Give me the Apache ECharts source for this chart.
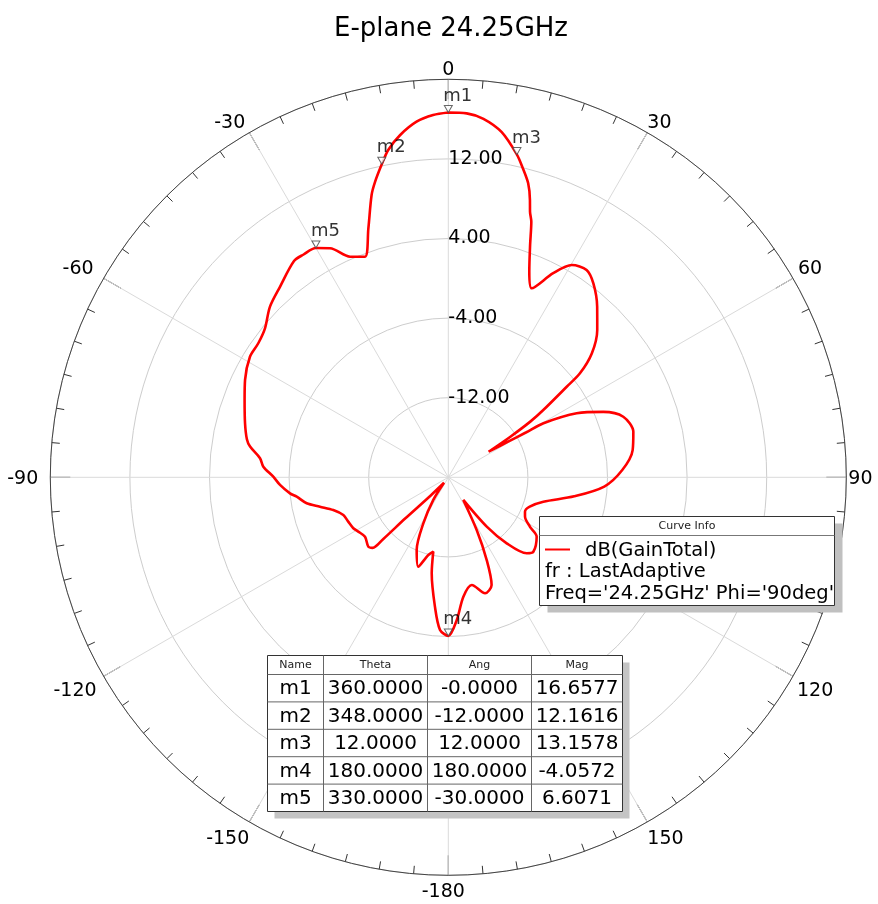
<!DOCTYPE html>
<html><head><meta charset="utf-8">
<script src="https://cdn.jsdelivr.net/npm/echarts@6/dist/echarts.min.js"></script>
<style>html,body{margin:0;padding:0;background:#fff}#c{width:878px;height:904px}</style>
</head><body><div id="c"></div>
<script>
// Pattern data: angle (deg, clockwise from top) and gain (dB)
const angles = [0, 2.9, 5.6, 8.8, 12, 13.5, 15.2, 16.4, 17.1, 18.0, 19.4, 21.5, 23.8, 27.2, 30.2, 33.7, 36.8, 41.1, 45.3, 49.2, 51.7, 52.6, 54.7, 55.8, 56.8, 57.6, 59.2, 60.0, 60.4, 63.5, 67.1, 70.9, 76.2, 81.6, 87.6, 93.4, 98.6, 104.4, 109.8, 114.2, 117.2, 121.2, 123.9, 131.2, 134.1, 138.5, 142.1, 146.5, 151.7, 155.1, 158.1, 162.4, 167.7, 172.8, 176.6, 180, 183.1, 185.9, 189.8, 191.4, 194.4, 198.6, 203.5, 208.5, 213.5, 218, 224, 226.3, 226.5, 227.0, 229.1, 234.5, 238.9, 241.8, 246.1, 250.2, 254.1, 257.1, 259.6, 262.7, 264.2, 267.4, 270.2, 273.3, 275.8, 278.8, 280.7, 284.9, 290.8, 295.6, 301.3, 305.2, 309.1, 313.7, 318.6, 324.5, 327.0, 330, 332.7, 336.0, 339.3, 342.2, 344.8, 346.1, 348, 349.6, 352.0, 354.9, 357.6, 360];
const gainDb = [16.66, 16.62, 16.2, 15.1, 13.16, 12.0, 10.62, 9.06, 7.93, 7.0, 4.75, 2.21, 0.76, 3.06, 4.68, 5.05, 4.34, 2.76, 1.06, -0.95, -3.14, -5.02, -8.30, -10.0, -12.5, -15.2, -13.0, -11.0, -9.0, -5.58, -3.09, -1.39, -0.85, -1.27, -2.5, -4.3, -7.2, -10.14, -11.3, -11.55, -11.33, -10.4, -9.3, -8.64, -9.03, -11.14, -13.71, -17.27, -13.98, -10.83, -8.33, -7.77, -8.92, -7.91, -5.64, -4.06, -4.63, -6.93, -10.21, -12.37, -11.94, -10.52, -12.03, -14.74, -17.27, -19.3, -17.5, -14.0, -11.0, -9.6, -9.36, -9.72, -9.43, -9.17, -9.0, -8.79, -7.98, -6.77, -5.53, -4.64, -4.01, -3.07, -2.41, -1.38, -0.98, 0.16, 0.6, 1.14, 1.9, 2.65, 3.33, 3.37, 3.74, 4.80, 5.56, 6.7, 6.7, 6.61, 5.91, 4.27, 3.70, 6.28, 9.40, 10.61, 12.16, 13.45, 14.74, 15.88, 16.44, 16.66];

// Axis ticks and labels
const angleTicks = [0, 30, 60, 90, 120, 150, 180, 210, 240, 270, 300, 330];
const angleTickText = ['0', '30', '60', '90', '120', '150', '-180', '-150', '-120', '-90', '-60', '-30'];
const radiusMin = -20, radiusMax = 20, radiusStep = 8;

// Markers
const markerNames = ['m1', 'm2', 'm3', 'm4', 'm5'];
const markerTheta = [360, 348, 12, 180, 330];
const markerAng = [-0, -12, 12, 180, -30];
const markerMag = [16.6577, 12.1616, 13.1578, -4.0572, 6.6071];

const tableHeader = ['Name', 'Theta', 'Ang', 'Mag'];
const legendLines = ['dB(GainTotal)', 'fr : LastAdaptive', "Freq='24.25GHz' Phi='90deg'"];

const FONT = 'DejaVu Sans';
const fmt4 = v => (Object.is(v, -0) ? '-' : '') + v.toFixed(4);

// label nudges (padding) per angle tick label, style only
const labelPad = [[0,0,0,0],[0,0,0,0],[0,0,0,5],[4,0,0,2],[5,0,0,4],[8,0,0,0],[7,10,0,0],[8,0,0,0],[5,7,0,0],[4,12,0,0],[0,10,0,0],[0,4,0,0]];
const rich = {};
labelPad.forEach((p, i) => { rich['k' + i] = {padding: p, fontFamily: FONT, fontSize: 19, color: '#000'}; });

const chart = echarts.init(document.getElementById('c'), null, {renderer: 'canvas'});

// Table graphic
const tX = 267.5, tY = 655.5, colX = [267.5, 323.5, 427.5, 531.5, 622.5], headH = 19, rowH = 27.4;
const tW = colX[4] - colX[0], tH = headH + rowH * markerNames.length;
const g = [];
g.push({type: 'rect', shape: {x: tX + 7, y: tY + 7, width: tW, height: tH}, style: {fill: '#c4c4c4'}, z: 10});
g.push({type: 'rect', shape: {x: tX, y: tY, width: tW, height: tH}, style: {fill: '#fff', stroke: '#333', lineWidth: 1}, z: 11});
for (let i = 1; i < 4; i++) g.push({type: 'line', shape: {x1: colX[i], y1: tY, x2: colX[i], y2: tY + tH}, style: {stroke: '#666', lineWidth: 1}, z: 12});
for (let r = 0; r < markerNames.length; r++) {
  const y = tY + headH + rowH * r;
  g.push({type: 'line', shape: {x1: tX, y1: y, x2: tX + tW, y2: y}, style: {stroke: '#666', lineWidth: 1}, z: 12});
}
tableHeader.forEach((h, i) => g.push({type: 'text', x: (colX[i] + colX[i + 1]) / 2, y: tY + headH / 2, style: {text: h, font: '11px ' + FONT, fill: '#222', align: 'center', verticalAlign: 'middle'}, z: 13}));
markerNames.forEach((n, r) => {
  const cells = [n, fmt4(markerTheta[r]), fmt4(markerAng[r]), fmt4(markerMag[r])];
  const y = tY + headH + rowH * r + rowH / 2 + 1;
  cells.forEach((c, i) => g.push({type: 'text', x: (colX[i] + colX[i + 1]) / 2, y: y, style: {text: c, font: '20px ' + FONT, fill: '#000', align: 'center', verticalAlign: 'middle'}, z: 13}));
});

// Legend (Curve Info) graphic
const lX = 539.5, lY = 516.5, lW = 295, lH = 89;
g.push({type: 'rect', shape: {x: lX + 8, y: lY + 7, width: lW, height: lH}, style: {fill: '#c0c0c0'}, z: 10});
g.push({type: 'rect', shape: {x: lX, y: lY, width: lW, height: lH}, style: {fill: '#fff', stroke: '#333', lineWidth: 1}, z: 11});
g.push({type: 'line', shape: {x1: lX, y1: lY + 19, x2: lX + lW, y2: lY + 19}, style: {stroke: '#777', lineWidth: 1}, z: 12});
g.push({type: 'text', x: lX + lW / 2, y: lY + 10, style: {text: 'Curve Info', font: '11px ' + FONT, fill: '#222', align: 'center', verticalAlign: 'middle'}, z: 13});
g.push({type: 'line', shape: {x1: 545, y1: 549.5, x2: 570, y2: 549.5}, style: {stroke: '#ff0000', lineWidth: 2}, z: 13});
g.push({type: 'text', x: 585, y: 551, style: {text: legendLines[0], font: '19.5px ' + FONT, fill: '#000', align: 'left', verticalAlign: 'middle'}, z: 13});
g.push({type: 'text', x: 545, y: 572, style: {text: legendLines[1], font: '19.5px ' + FONT, fill: '#000', align: 'left', verticalAlign: 'middle'}, z: 13});
g.push({type: 'text', x: 545, y: 593.5, style: {text: legendLines[2], font: '19.5px ' + FONT, fill: '#000', align: 'left', verticalAlign: 'middle'}, z: 13});

const option = {
  backgroundColor: '#fff',
  animation: false,
  title: {text: 'E-plane 24.25GHz', left: 446, top: 11, textAlign: 'center',
    textStyle: {fontFamily: FONT, fontSize: 26, fontWeight: 'normal', color: '#000'}},
  polar: {center: [448.3, 477.3], radius: 398},
  angleAxis: {
    type: 'value', min: 0, max: 360, interval: 30, startAngle: 90, clockwise: true,
    axisLine: {lineStyle: {color: '#444', width: 1}},
    axisTick: {show: true, inside: true, length: 20, lineStyle: {color: '#333', width: 1}},
    minorTick: {show: true, splitNumber: 6, length: 8, lineStyle: {color: '#333', width: 1}},
    splitLine: {show: true, lineStyle: {color: '#dadada', width: 1}},
    axisLabel: {margin: 0, fontFamily: FONT, fontSize: 19, color: '#000', rich: rich,
      formatter: v => { const i = angleTicks.indexOf(v); return i >= 0 ? '{k' + i + '|' + angleTickText[i] + '}' : ''; }}
  },
  radiusAxis: {
    type: 'value', min: radiusMin, max: radiusMax, interval: radiusStep,
    axisLine: {show: false}, axisTick: {show: false},
    splitLine: {show: true, lineStyle: {color: '#cdcdcd', width: 1}},
    axisLabel: {showMinLabel: false, showMaxLabel: false, margin: 0, align: 'left', verticalAlign: 'middle',
      padding: [0, 0, 8, 0], fontFamily: FONT, fontSize: 19, color: '#000',
      formatter: v => v.toFixed(2)}
  },
  series: [
    {type: 'line', coordinateSystem: 'polar', showSymbol: false, z: 5, smooth: 0.3,
      lineStyle: {color: '#ff0000', width: 2.6},
      data: angles.map((a, i) => [gainDb[i], a])},
    {type: 'scatter', coordinateSystem: 'polar', z: 6,
      symbol: 'path://M0,0L10,0L5,8Z', symbolSize: [8, 7], symbolOffset: [0, '-50%'],
      itemStyle: {color: '#fff', borderColor: '#444', borderWidth: 1},
      label: {show: true, position: 'top', distance: 0, align: 'left', offset: [-5, 0],
        fontFamily: FONT, fontSize: 18, color: '#000', formatter: p => p.name},
      data: markerNames.map((n, i) => ({name: n, value: [markerMag[i], (markerAng[i] + 360) % 360]}))}
  ],
  graphic: g
};
chart.setOption(option);
</script>
</body></html>
